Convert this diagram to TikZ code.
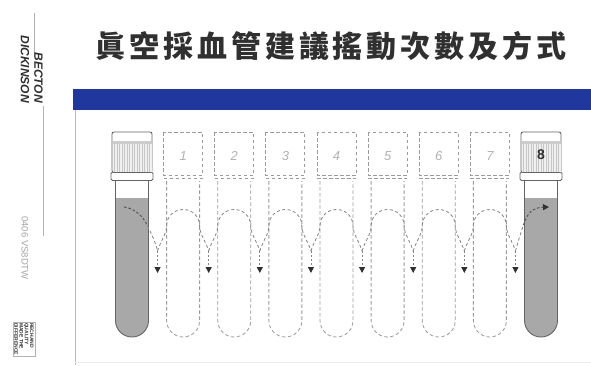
\documentclass[tikz,border=0pt]{standalone}
\usepackage{fontspec}
\setmainfont{Liberation Sans}
\newfontfamily\cjk[LetterSpace=13]{Noto Sans CJK TC}
\usetikzlibrary{arrows.meta}
\definecolor{bdblue}{RGB}{32,56,158}
\definecolor{blood}{RGB}{168,168,168}
\definecolor{inkdark}{RGB}{48,48,48}
\definecolor{tubeline}{RGB}{100,100,100}
\definecolor{ghost}{RGB}{155,155,155}
\begin{document}
\begin{tikzpicture}[x=1pt,y=-1pt,
  ghostline/.style={draw=ghost, line width=0.8pt, dash pattern=on 3.5pt off 2.5pt},
  swingpath/.style={draw=ghost!85!black, line width=0.8pt, dash pattern=on 3pt off 2.5pt},
  swingdark/.style={draw=inkdark!85, line width=0.9pt, dash pattern=on 2.5pt off 2pt},
  drop/.style={draw=ghost!85!black, line width=0.8pt, dash pattern=on 2pt off 2pt,
    -{Triangle[width=6pt,length=6pt,color=inkdark]}},
  tubeedge/.style={draw=tubeline, line width=0.9pt},
  numlabel/.style={font=\itshape\fontsize{13}{13}\selectfont, text=gray!60, inner sep=0},
  sidetext/.style={rotate=-90, inner sep=0, text=inkdark}
]
\fill[white] (0,0) rectangle (591,365);
\useasboundingbox (0,0) rectangle (591,365);

% title
\node[anchor=base west, inner sep=0, text=inkdark,
      font={\cjk\bfseries\fontsize{30}{30}\selectfont}] (title) at (95.5,57.5)
  {眞空採血管建議搖動次數及方式};

% card: blue band, left edge, faint bottom edge
\fill[bdblue] (73,89) rectangle (591,110);
\draw[gray!55, line width=0.8pt] (75,110) -- (75,365);
\draw[gray!15, line width=0.6pt] (75,362.5) -- (591,362.5);

% side strip of the card
\draw[gray!60, line width=0.5pt] (34,13) -- (34,57);
\draw[gray!60, line width=0.5pt] (43,106) -- (43,236);
\node[sidetext, anchor=north east, align=right,
      font=\bfseries\itshape\fontsize{12}{13.5}\selectfont] (bd) at (43,103) {BECTON\\DICKINSON};
\node[sidetext, text=gray!70, font=\fontsize{9.5}{9.5}\selectfont] (code) at (25,248) {0406 VS8DTW};
\node[sidetext, draw=gray!60, line width=0.4pt, inner sep=1pt, align=left,
      font=\bfseries\fontsize{5}{5.3}\selectfont] (tag) at (24,339) {RECHAND\\QUALITY\\MADE THE\\DIFFERENCE};

% ghost tubes 1..7 (dashed outlines)
\foreach \k in {1,...,7}{
  \pgfmathsetmacro\c{132+51.125*\k}
  \draw[ghostline] (\c-19.5,132) rectangle (\c+19.5,175);
  \draw[ghostline] (\c-19.5,178.5) -- (\c+19.5,178.5);
  \draw[ghostline] (\c-16.5,181) -- (\c-16.5,320.5)
     .. controls (\c-16.5,329.6) and (\c-9.11,337) .. (\c,337)
     .. controls (\c+9.11,337) and (\c+16.5,329.6) .. (\c+16.5,320.5) -- (\c+16.5,181);
  \node[numlabel] (n\k) at (\c,156) {\k};
  \coordinate (L\k) at (\c-16.5,226);
  \coordinate (A\k) at (\c,209.5);
  \coordinate (R\k) at (\c+16.5,226);
}

% drop arrows between the tubes
\foreach \k in {0,...,7}{
  \pgfmathsetmacro\m{157.56+51.125*\k}
  \coordinate (V\k) at (\m,251);
  \coordinate (T\k) at (\m,273);
  \draw[drop] (V\k) -- (T\k);
}

% solid tubes at both ends
\foreach \k in {0,8}{
  \pgfmathsetmacro\c{132+51.125*\k}
  \fill[blood] (\c-16.5,198) -- (\c-16.5,320.5)
     .. controls (\c-16.5,329.6) and (\c-9.11,337) .. (\c,337)
     .. controls (\c+9.11,337) and (\c+16.5,329.6) .. (\c+16.5,320.5) -- (\c+16.5,198) -- cycle;
  \draw[tubeedge] (\c-16.5,180) -- (\c-16.5,320.5)
     .. controls (\c-16.5,329.6) and (\c-9.11,337) .. (\c,337)
     .. controls (\c+9.11,337) and (\c+16.5,329.6) .. (\c+16.5,320.5) -- (\c+16.5,180);
  \draw[tubeedge, fill=white, rounded corners=1.5pt] (\c-21,172) rectangle (\c+21,180.5);
  \draw[tubeedge, fill=white, rounded corners=2pt] (\c-20,132) rectangle (\c+20,172.5);
  \fill[gray!12] (\c-19.5,143.5) rectangle (\c+19.5,171.5);
  \fill[gray!40] (\c-19.5,141) rectangle (\c+19.5,143.5);
  \foreach \s in {-17.5,-15,...,17.5}
    \draw[gray!45, line width=0.4pt] (\c+\s,143.5) -- (\c+\s,171.5);
}
\node[font=\bfseries\fontsize{14}{14}\selectfont, text=inkdark, inner sep=0] (eight) at (541,155) {8};

% swinging path: out of the first tube, over each ghost tube, into the last
\coordinate (S) at (124,207);
\coordinate (J0) at (147.5,226);
\coordinate (J8) at (523.5,225);
\coordinate (E) at (549,207);
\draw[swingdark] (S) .. controls (133,208) and (143,215) .. (J0);
\draw[swingpath] (J0) .. controls (151,233) and (155.5,242) .. (V0);
\foreach \k in {1,...,7}{
  \pgfmathsetmacro\c{132+51.125*\k}
  \pgfmathtruncatemacro\p{\k-1}
  \draw[swingpath] (V\p) .. controls (\c-23,242) and (\c-16.5,234) .. (L\k)
     .. controls (\c-16.5,216.4) and (\c-9.11,209.5) .. (A\k)
     .. controls (\c+9.11,209.5) and (\c+16.5,216.4) .. (R\k)
     .. controls (\c+16.5,234) and (\c+23,242) .. (V\k);
}
\draw[swingpath] (V7) .. controls (518,242) and (521,232) .. (J8);
\draw[swingdark, -{Triangle[width=6pt,length=6pt,color=inkdark]}]
  (J8) .. controls (527,213) and (533,207.5) .. (E);
\end{tikzpicture}
\end{document}
